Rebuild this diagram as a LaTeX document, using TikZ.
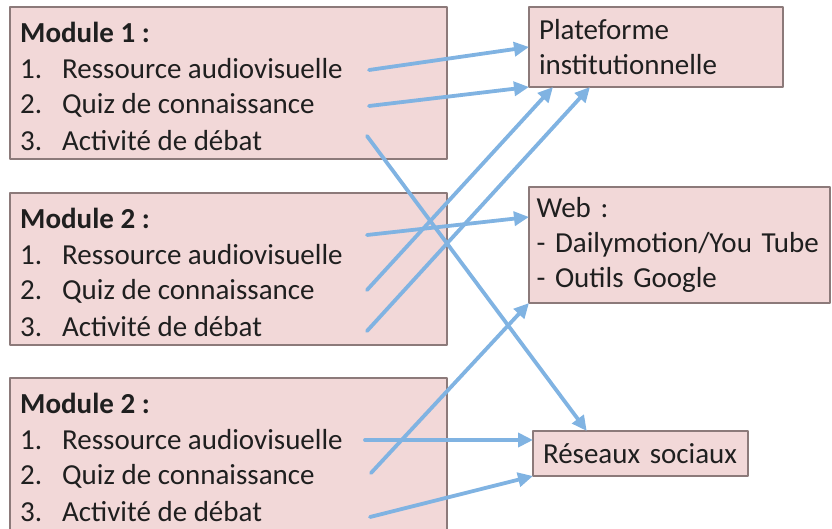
\documentclass[tikz,border=0pt]{standalone}
\usepackage{fontspec}
\setmainfont{Carlito}
\usetikzlibrary{arrows.meta, positioning, calc}
\definecolor{boxfill}{RGB}{242,216,216}
\definecolor{boxline}{RGB}{140,122,122}
\definecolor{flow}{RGB}{128,179,226}

\begin{document}
\begin{tikzpicture}[x=1pt, y=-1pt, line cap=round, line join=round,
    box/.style={draw=boxline, fill=boxfill, line width=1.1pt, inner sep=0pt, outer sep=0pt},
    lbl/.style={font=\fontsize{29}{35}\selectfont, inner sep=0pt, anchor=west, text=black!88},
    link/.style={draw=flow, line width=3.8pt, -{Triangle[length=15pt, width=14pt]}}]
  \useasboundingbox (0,0) rectangle (832,529);
  % ================= modules (left) =================
  \foreach \i/\top/\nb in {1/7/1, 2/193/2, 3/378/2} {
    \node[box, anchor=north west, minimum width=437pt, minimum height=152pt] (m\i) at (10,\top) {};
    \node[lbl, font=\fontsize{29}{35}\selectfont\bfseries] (m\i-t) at (20,\top+25) {Module \nb{} :};
    \node[lbl] (m\i-1) at (20,\top+62) {\makebox[42pt][l]{1.}Ressource audiovisuelle};
    \node[lbl] (m\i-2) at (20,\top+98) {\makebox[42pt][l]{2.}Quiz de connaissance};
    \node[lbl] (m\i-3) at (20,\top+134) {\makebox[42pt][l]{3.}Activité de débat};
  }
  % ================= supports (right) =================
  \node[box, anchor=north west, minimum width=254pt, minimum height=80pt,
        text width=234pt, align=left, lbl, anchor=north west] (plat) at (529,7)
        {Plateforme\\institutionnelle};
  \node[box, anchor=north west, minimum width=301pt, minimum height=116pt,
        text width=286pt, align=left, lbl, anchor=north west] (web) at (529,187)
        {Web :\\- Dailymotion/You Tube\\- Outils Google};
  \node[box, anchor=north west, minimum width=215pt, minimum height=45pt,
        text width=195pt, align=left, lbl, anchor=north west] (res) at (533,431)
        {Réseaux sociaux};
  % ================= links =================
  \coordinate (s11) at (369,70);
  \coordinate (s12) at (369,106);
  \coordinate (s13) at (367,136);
  \coordinate (s21) at (367,235);
  \coordinate (s22) at (367,290);
  \coordinate (s23) at (367,331);
  \coordinate (s31) at (365,440);
  \coordinate (s32) at (371,473);
  \coordinate (s33) at (370,517);
  \draw[link] (s11) -- (plat.west);
  \draw[link] (s12) -- (plat.south west);
  \draw[link] (s13) -- ($(res.north west)!0.25!(res.north east)$);
  \draw[link] (s21) -- ([yshift=-30pt]web.north west);
  \draw[link] (s22) -- ([xshift=24pt]plat.south west);
  \draw[link] (s23) -- ([xshift=61pt]plat.south west);
  \draw[link] (s31) -- ([yshift=-9pt]res.north west);
  \draw[link] (s32) -- (web.south west);
  \draw[link] (s33) -- (res.south west);
\end{tikzpicture}
\end{document}
